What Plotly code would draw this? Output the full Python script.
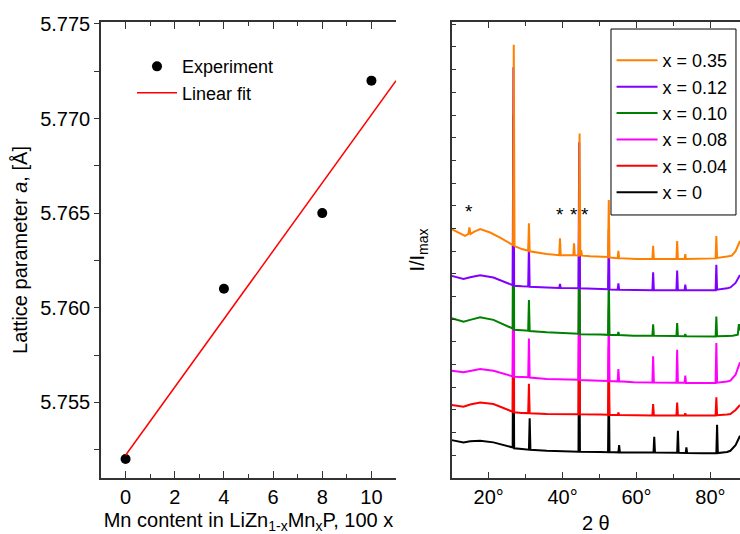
import plotly.graph_objects as go

# ---------------- Left panel data ----------------
mn_content = [0, 4, 8, 10]
lattice_a = [5.752, 5.761, 5.765, 5.772]
fit_x = [0, 11]
fit_y = [5.7522, 5.7720]

# ---------------- Right panel data (2theta, offset I/Imax) ----------------
two_theta_0 = [10.0, 11.5, 13.2, 15.0, 17.7, 21.3, 24.9, 26.5, 26.7, 26.9, 29.0, 30.9, 31.1, 31.3, 35.7, 40.0,
               44.3, 44.5, 44.7, 50.2, 52.3, 52.5, 52.7, 55.1, 55.3, 55.5, 59.2, 64.6, 64.8, 65.0, 71.0, 71.2,
               71.4, 73.3, 73.5, 73.7, 78.0, 81.6, 81.8, 82.0, 84.5, 85.4, 86.8, 88.0]
inten_0 = [1.67, 1.62, 1.57, 1.62, 1.64, 1.57, 1.42, 1.35, 9.5, 1.31, 1.28, 1.25, 2.63, 1.24, 1.20, 1.18,
           1.16, 8.0, 1.16, 1.15, 1.14, 4.5, 1.14, 1.13, 1.45, 1.13, 1.13, 1.12, 1.82, 1.12, 1.11, 2.08,
           1.11, 1.10, 1.35, 1.10, 1.09, 1.09, 2.35, 1.10, 1.15, 1.20, 1.45, 1.86]

two_theta_04 = [10.0, 11.5, 13.2, 15.0, 17.7, 21.3, 24.9, 26.5, 26.7, 26.9, 29.0, 30.7, 30.9, 31.1, 35.7, 40.0,
                44.3, 44.5, 44.7, 50.2, 52.3, 52.5, 52.7, 54.9, 55.1, 55.3, 59.2, 64.3, 64.5, 64.7, 70.8, 71.0,
                71.2, 73.0, 73.2, 73.4, 78.0, 81.4, 81.6, 81.8, 84.5, 85.4, 86.8, 88.0]
inten_04 = [3.22, 3.18, 3.14, 3.24, 3.33, 3.26, 3.01, 2.92, 11.5, 2.90, 2.87, 2.86, 4.15, 2.85, 2.82, 2.82,
            2.81, 9.5, 2.81, 2.80, 2.79, 5.8, 2.78, 2.78, 2.89, 2.78, 2.76, 2.76, 3.26, 2.76, 2.76, 3.33,
            2.76, 2.76, 2.85, 2.76, 2.76, 2.76, 3.56, 2.77, 2.80, 2.82, 3.00, 3.22]

two_theta_08 = [10.0, 11.5, 13.2, 15.0, 17.7, 21.3, 24.9, 26.5, 26.7, 26.9, 29.0, 30.7, 30.9, 31.1, 35.7, 40.0,
                44.3, 44.5, 44.7, 50.2, 52.3, 52.5, 52.7, 54.9, 55.1, 55.3, 59.2, 64.3, 64.5, 64.7, 70.8, 71.0,
                71.2, 73.0, 73.2, 73.4, 78.0, 81.4, 81.6, 81.8, 84.5, 85.4, 86.8, 88.0]
inten_08 = [4.73, 4.70, 4.66, 4.72, 4.80, 4.73, 4.54, 4.48, 13.5, 4.46, 4.45, 4.44, 6.15, 4.43, 4.36, 4.35,
            4.33, 11.0, 4.32, 4.29, 4.28, 7.5, 4.27, 4.26, 4.80, 4.26, 4.22, 4.21, 5.36, 4.21, 4.20, 5.65,
            4.20, 4.20, 4.51, 4.19, 4.19, 4.19, 5.95, 4.20, 4.25, 4.29, 4.55, 5.10]

two_theta_10 = [10.0, 11.5, 13.2, 15.0, 17.7, 21.3, 24.9, 26.5, 26.7, 26.9, 29.0, 30.7, 30.9, 31.1, 35.7, 40.0,
                44.3, 44.5, 44.7, 50.2, 52.3, 52.5, 52.7, 54.9, 55.1, 55.3, 59.2, 64.3, 64.5, 64.7, 70.8, 71.0,
                71.2, 73.0, 73.2, 73.4, 78.0, 81.4, 81.6, 81.8, 84.5, 86.0, 87.4, 87.7, 88.0]
inten_10 = [7.04, 6.97, 6.89, 6.97, 7.08, 6.97, 6.71, 6.59, 15.99, 6.53, 6.51, 6.49, 7.85, 6.48, 6.42, 6.40,
            6.36, 12.29, 6.34, 6.32, 6.31, 8.99, 6.30, 6.30, 6.44, 6.30, 6.27, 6.27, 6.78, 6.27, 6.26, 6.83,
            6.26, 6.25, 6.35, 6.25, 6.24, 6.24, 7.12, 6.25, 6.26, 6.27, 6.32, 6.78, 6.50]

two_theta_12 = [10.0, 11.5, 13.2, 15.0, 17.7, 21.3, 24.9, 26.5, 26.7, 26.9, 29.0, 30.7, 30.9, 31.1, 35.7, 39.1,
                39.3, 39.5, 44.3, 44.5, 44.7, 50.2, 52.3, 52.5, 52.7, 54.9, 55.1, 55.3, 59.2, 64.3, 64.5, 64.7,
                70.8, 71.0, 71.2, 73.0, 73.2, 73.4, 78.0, 81.4, 81.6, 81.8, 84.5, 85.4, 86.8, 88.0]
inten_12 = [8.91, 8.85, 8.77, 8.85, 8.94, 8.84, 8.62, 8.50, 18.11, 8.47, 8.45, 8.44, 10.31, 8.43, 8.40, 8.38,
            8.55, 8.38, 8.36, 14.80, 8.36, 8.33, 8.32, 10.97, 8.31, 8.30, 8.58, 8.30, 8.28, 8.28, 9.07, 8.28,
            8.28, 9.15, 8.28, 8.28, 8.52, 8.28, 8.28, 8.28, 9.40, 8.30, 8.36, 8.40, 8.60, 8.95]

two_theta_35 = [10.0, 12.0, 13.6, 14.5, 14.8, 15.1, 16.0, 17.7, 20.4, 23.1, 25.8, 26.6, 26.8, 27.0, 29.0, 30.7,
                30.9, 31.1, 35.7, 39.1, 39.3, 39.5, 42.9, 43.1, 43.3, 44.4, 44.6, 44.8, 45.0, 45.3, 47.5, 52.3,
                52.5, 52.7, 54.9, 55.1, 55.3, 60.0, 64.3, 64.5, 64.7, 70.8, 71.0, 71.2, 73.0, 73.2, 73.4, 78.0,
                81.4, 81.6, 81.8, 84.5, 85.8, 86.8, 87.5, 88.0]
inten_35 = [10.97, 10.80, 10.67, 10.75, 11.04, 10.75, 10.85, 10.97, 10.82, 10.60, 10.31, 10.26, 19.10, 10.22, 10.09, 10.02,
            11.23, 9.99, 9.87, 9.82, 10.57, 9.82, 9.82, 10.34, 9.82, 9.80, 15.19, 9.80, 10.04, 9.80, 9.77, 9.74,
            12.25, 9.72, 9.69, 10.01, 9.69, 9.65, 9.65, 10.23, 9.65, 9.65, 10.45, 9.65, 9.65, 9.87, 9.65, 9.66,
            9.68, 10.67, 9.70, 9.76, 9.80, 10.00, 10.26, 10.45]

series = [
    ("x = 0", "#000000", two_theta_0, inten_0),
    ("x = 0.04", "#FF0000", two_theta_04, inten_04),
    ("x = 0.08", "#FF00FF", two_theta_08, inten_08),
    ("x = 0.10", "#008000", two_theta_10, inten_10),
    ("x = 0.12", "#8000FF", two_theta_12, inten_12),
    ("x = 0.35", "#FF8000", two_theta_35, inten_35),
]

star_x = [14.6, 39.2, 43.1, 46.0]
star_y = [11.75, 11.62, 11.62, 11.62]

FONT = "Arial, Liberation Sans, sans-serif"
AX = "#333333"
FS = 20
LFS = 18

fig = go.Figure()

fig.add_trace(go.Scatter(x=mn_content, y=lattice_a, mode="markers", name="Experiment",
                         marker=dict(color="black", size=10), xaxis="x", yaxis="y", legend="legend"))
fig.add_trace(go.Scatter(x=fit_x, y=fit_y, mode="lines", name="Linear fit",
                         line=dict(color="#FF0000", width=1.5), xaxis="x", yaxis="y", legend="legend"))

for name, color, xs, ys in series:
    fig.add_trace(go.Scatter(x=xs, y=ys, mode="lines", name=name, line=dict(color=color, width=2),
                             xaxis="x2", yaxis="y2", legend="legend2"))

for sx, sy in zip(star_x, star_y):
    fig.add_annotation(x=sx, y=sy, xref="x2", yref="y2", text="*", showarrow=False,
                       font=dict(size=19, color="black", family=FONT))

# legend box for right panel
fig.add_shape(type="rect", xref="paper", yref="paper", x0=0.7981, x1=0.9937, y0=0.5768, y1=0.9846,
              line=dict(color="black", width=1), fillcolor="rgba(0,0,0,0)", layer="above")

tick_common = dict(showgrid=False, zeroline=False, showline=True, linecolor=AX, linewidth=1.5,
                   tickcolor=AX, tickwidth=1.2, tickfont=dict(size=FS, family=FONT, color="black"))

fig.update_layout(
    width=740, height=534,
    margin=dict(l=101, r=0, t=22, b=56),
    paper_bgcolor="white", plot_bgcolor="white",
    font=dict(family=FONT, size=FS, color="black"),
    showlegend=True,
    xaxis=dict(domain=[0, 0.4617], range=[-1, 11], tick0=0, dtick=2, ticks="inside", ticklen=7,
               minor=dict(ticks="inside", dtick=1, ticklen=4, tickcolor=AX),
               mirror="ticks", anchor="y",
               title=dict(text="Mn content in LiZn<sub>1-x</sub>Mn<sub>x</sub>P, 100 x", standoff=7,
                          font=dict(size=FS, family=FONT)),
               **tick_common),
    yaxis=dict(domain=[0, 1], range=[5.751, 5.7751], tick0=5.755, dtick=0.005, tickformat=".3f",
               ticks="outside", ticklen=5,
               minor=dict(ticks="outside", dtick=0.0025, ticklen=5, tickcolor=AX),
               mirror=False, anchor="x",
               title=dict(text="Lattice parameter <i>a</i>, [Å]", standoff=7,
                          font=dict(size=FS, family=FONT)),
               **tick_common),
    yaxis3=dict(overlaying="y", side="right", anchor="x", range=[5.751, 5.7751], tick0=5.755, dtick=0.005,
                ticks="inside", ticklen=5, showticklabels=False,
                minor=dict(ticks="inside", dtick=0.0025, ticklen=5, tickcolor=AX),
                **tick_common),
    xaxis2=dict(domain=[0.5488, 1], range=[10, 88], tick0=0, dtick=20, ticksuffix="°", ticks="inside",
                ticklen=6, minor=dict(ticks="inside", dtick=10, ticklen=4, tickcolor=AX),
                mirror="ticks", anchor="y2",
                title=dict(text="2 θ", standoff=10, font=dict(size=FS, family=FONT)),
                **tick_common),
    yaxis2=dict(domain=[0, 1], range=[0, 20.1], tick0=0, dtick=1, ticks="inside", ticklen=5,
                showticklabels=False, mirror=False, anchor="x2",
                title=dict(text="I/I<sub>max</sub>", standoff=20, font=dict(size=FS, family=FONT)),
                **tick_common),
    legend=dict(x=0.0485, y=0.9426, xanchor="left", yanchor="top", bgcolor="rgba(0,0,0,0)",
                borderwidth=0, font=dict(size=LFS, family=FONT), itemwidth=40),
    legend2=dict(x=0.7990, y=0.9560, xanchor="left", yanchor="top", bgcolor="rgba(0,0,0,0)",
                 borderwidth=0, font=dict(size=LFS, family=FONT), traceorder="reversed", itemwidth=41),
)

fig.write_html("out.html")
